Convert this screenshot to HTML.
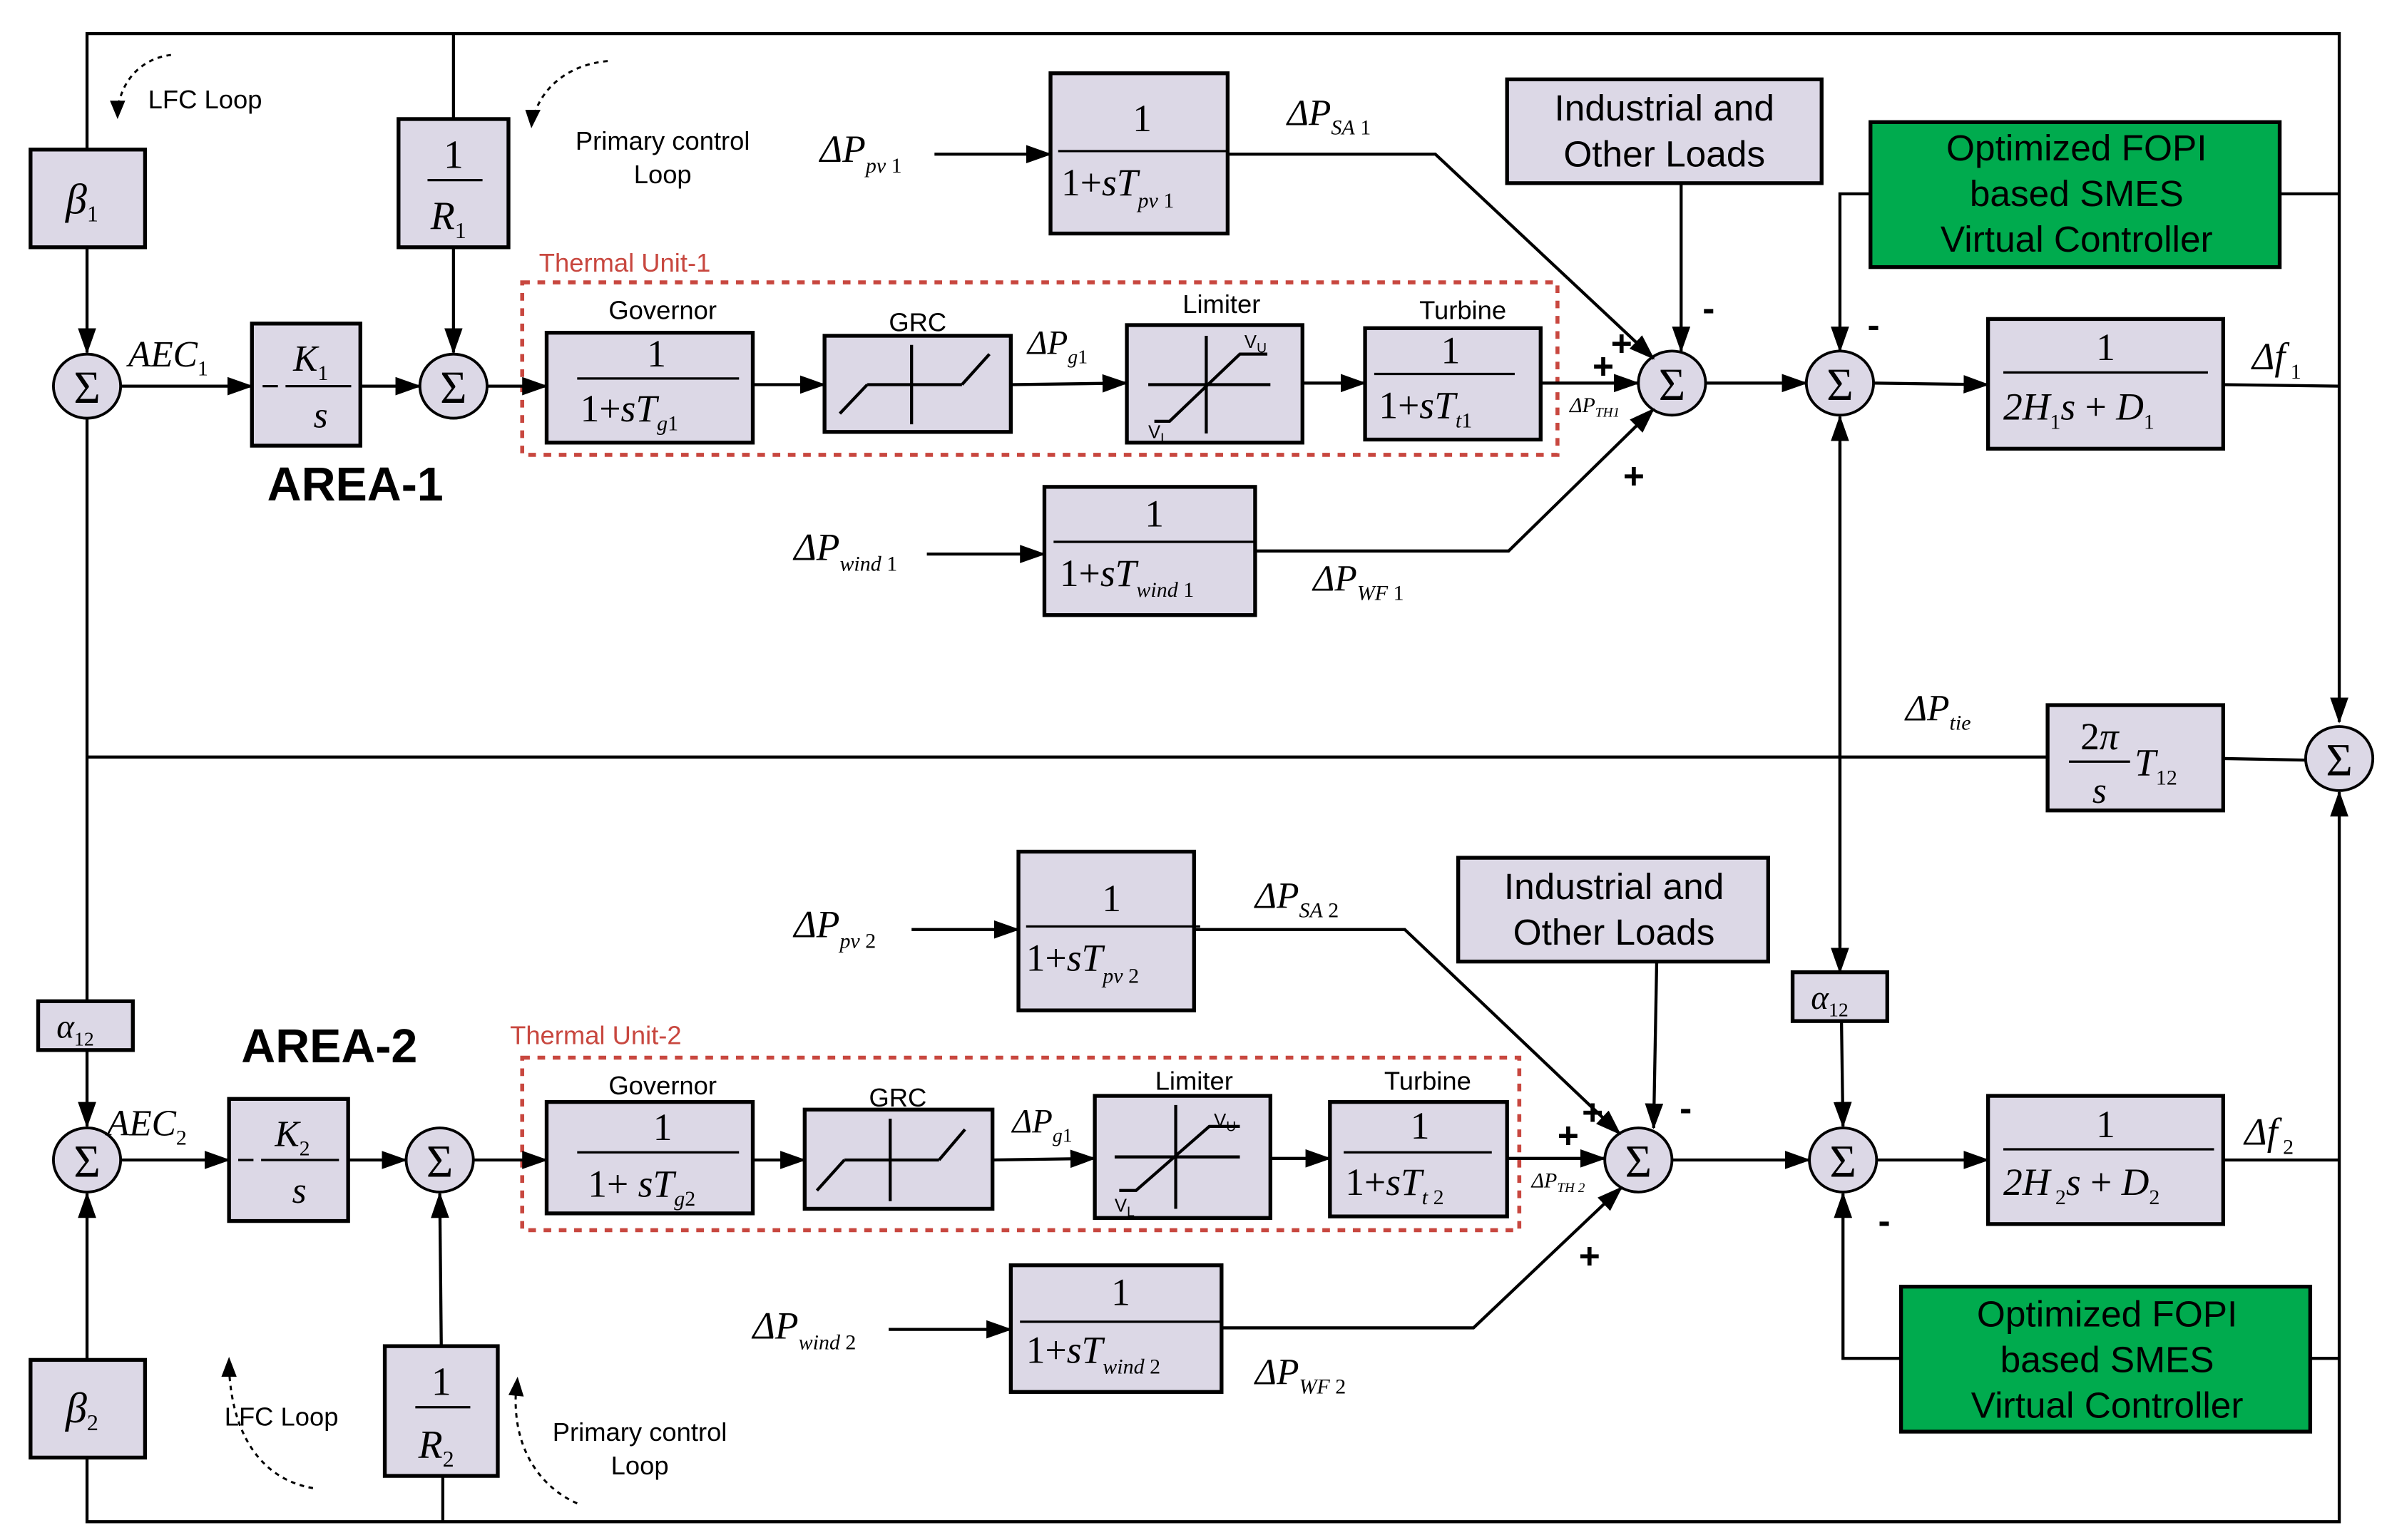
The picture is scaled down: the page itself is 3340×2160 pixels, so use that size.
<!DOCTYPE html>
<html><head><meta charset="utf-8"><style>
html,body{margin:0;padding:0;background:#fff}
svg{display:block}
.b{fill:#dcd8e6;stroke:#000;stroke-width:2.5}
.g{fill:#00ab4e;stroke:#000;stroke-width:2.5}
.l{fill:none;stroke:#000;stroke-width:2}
.s{fill:#dcd8e6;stroke:#000;stroke-width:1.8}
.d{fill:none;stroke:#c8473f;stroke-width:2.6;stroke-dasharray:5,5}
.c{fill:none;stroke:#000;stroke-width:1.4;stroke-dasharray:3,3}
.m{font-family:"Liberation Serif",serif;font-style:italic}
.n{font-family:"Liberation Serif",serif}
.t{font-family:"Liberation Sans",sans-serif}
</style></head><body>
<svg width="3340" height="2160" viewBox="0 0 1560 1009" preserveAspectRatio="none" xmlns="http://www.w3.org/2000/svg">
<defs>
<marker id="a" markerUnits="userSpaceOnUse" markerWidth="18" markerHeight="14" refX="16" refY="6" orient="auto"><path d="M0,0 L17,6 L0,12 z" fill="#000"/></marker>
</defs>
<!-- outer loops -->
<polyline class="l" points="57,98 57,22 1532,22 1532,473" marker-end="url(#a)"/>
<line class="l" x1="297" y1="22" x2="297" y2="78"/>
<polyline class="l" points="57,955 57,997 1532,997 1532,519" marker-end="url(#a)"/>
<line class="l" x1="290" y1="967" x2="290" y2="997"/>

<!-- AREA 1 -->
<rect class="b" x="20" y="98" width="75" height="64"/>
<text class="m" x="43" y="140" font-size="28">β<tspan font-size="15" font-style="normal" dy="5">1</tspan></text>
<line class="l" x1="57" y1="162" x2="57" y2="231" marker-end="url(#a)"/>
<rect class="b" x="261" y="78" width="72" height="84"/>
<text class="n" x="297" y="110" font-size="26" text-anchor="middle">1</text>
<line x1="280" y1="118" x2="316" y2="118" stroke="#000" stroke-width="1.5"/>
<text class="m" x="282" y="150" font-size="26">R<tspan font-size="15" font-style="normal" dy="6">1</tspan></text>
<line class="l" x1="297" y1="162" x2="297" y2="231" marker-end="url(#a)"/>

<ellipse class="s" cx="57" cy="253" rx="22" ry="21"/><text class="n" x="57" y="264" font-size="30" text-anchor="middle">Σ</text>
<ellipse class="s" cx="297" cy="253" rx="22" ry="21"/><text class="n" x="297" y="264" font-size="30" text-anchor="middle">Σ</text>
<text class="m" x="84" y="240" font-size="24">AEC<tspan font-size="14" font-style="normal" dy="6">1</tspan></text>
<line class="l" x1="79" y1="253" x2="165" y2="253" marker-end="url(#a)"/>
<rect class="b" x="165" y="212" width="71" height="80"/>
<text class="m" x="192" y="243" font-size="24">K<tspan font-size="14" font-style="normal" dy="6">1</tspan></text>
<line x1="172" y1="253" x2="182" y2="253" stroke="#000" stroke-width="1.5"/><line x1="187" y1="253" x2="230" y2="253" stroke="#000" stroke-width="1.5"/>
<text class="m" x="210" y="280" font-size="24" text-anchor="middle">s</text>
<line class="l" x1="236" y1="253" x2="275" y2="253" marker-end="url(#a)"/>
<text class="t" x="175" y="328" font-size="31" font-weight="bold">AREA-1</text>

<text class="t" x="97" y="71" font-size="17">LFC Loop</text>
<path class="c" d="M112,36 C95,38 80,50 77,72"/><path d="M72,66 L77,78 L82,66 z"/>
<text class="t" x="434" y="98" font-size="17" text-anchor="middle">Primary control</text>
<text class="t" x="434" y="120" font-size="17" text-anchor="middle">Loop</text>
<path class="c" d="M398,40 C375,42 355,55 349,78"/><path d="M344,72 L348,84 L354,72 z"/>

<rect class="d" x="342" y="185" width="678" height="113"/>
<text class="t" x="353" y="178" font-size="17" fill="#c8473f">Thermal Unit-1</text>
<line class="l" x1="319" y1="253" x2="358" y2="253" marker-end="url(#a)"/>
<text class="t" x="434" y="209" font-size="17" text-anchor="middle">Governor</text>
<rect class="b" x="358" y="218" width="135" height="72"/>
<text class="n" x="430" y="240" font-size="25" text-anchor="middle">1</text>
<line x1="378" y1="248" x2="484" y2="248" stroke="#000" stroke-width="1.5"/>
<text class="n" x="380" y="276" font-size="25">1+<tspan class="m">sT</tspan><tspan class="m" font-size="14" dy="6">g</tspan><tspan font-size="14">1</tspan></text>
<line class="l" x1="493" y1="252" x2="540" y2="252" marker-end="url(#a)"/>
<text class="t" x="601" y="217" font-size="17" text-anchor="middle">GRC</text>
<rect class="b" x="540" y="220" width="122" height="63"/>
<line class="l" x1="597" y1="226" x2="597" y2="278"/><line class="l" x1="568" y1="252" x2="630" y2="252"/>
<line class="l" x1="550" y1="271" x2="568" y2="252"/><line class="l" x1="630" y1="252" x2="648" y2="232"/>
<line class="l" x1="662" y1="252" x2="738" y2="251" marker-end="url(#a)"/>
<text class="m" x="673" y="232" font-size="22">ΔP<tspan font-size="13" dy="6">g</tspan><tspan font-size="13" font-style="normal">1</tspan></text>
<text class="t" x="800" y="205" font-size="17" text-anchor="middle">Limiter</text>
<rect class="b" x="738" y="213" width="115" height="77"/>
<line class="l" x1="790" y1="220" x2="790" y2="284"/><line class="l" x1="752" y1="252" x2="832" y2="252"/>
<polyline class="l" points="756,276 766,276 812,232 830,232"/>
<text class="t" x="815" y="228" font-size="12">V<tspan font-size="9" dy="3">U</tspan></text>
<text class="t" x="752" y="287" font-size="12">V<tspan font-size="9" dy="3">L</tspan></text>
<line class="l" x1="853" y1="251" x2="894" y2="251" marker-end="url(#a)"/>
<text class="t" x="958" y="209" font-size="17" text-anchor="middle">Turbine</text>
<rect class="b" x="894" y="215" width="115" height="73"/>
<text class="n" x="950" y="238" font-size="25" text-anchor="middle">1</text>
<line x1="900" y1="245" x2="992" y2="245" stroke="#000" stroke-width="1.5"/>
<text class="n" x="903" y="274" font-size="25">1+<tspan class="m">sT</tspan><tspan class="m" font-size="14" dy="6">t</tspan><tspan font-size="14">1</tspan></text>
<line class="l" x1="1009" y1="251" x2="1073" y2="251" marker-end="url(#a)"/>
<text class="m" x="1028" y="270" font-size="14">ΔP<tspan font-size="9" dy="3">TH1</tspan></text>

<ellipse class="s" cx="1095" cy="251" rx="22" ry="21"/><text class="n" x="1095" y="262" font-size="30" text-anchor="middle">Σ</text>
<text class="t" x="1062" y="233" font-size="24" font-weight="bold" text-anchor="middle">+</text>
<text class="t" x="1050" y="248" font-size="24" font-weight="bold" text-anchor="middle">+</text>
<text class="t" x="1119" y="210" font-size="24" font-weight="bold" text-anchor="middle">-</text>
<text class="t" x="1070" y="320" font-size="24" font-weight="bold" text-anchor="middle">+</text>

<rect class="b" x="688" y="48" width="116" height="105"/>
<text class="n" x="748" y="86" font-size="25" text-anchor="middle">1</text>
<line x1="693" y1="99" x2="804" y2="99" stroke="#000" stroke-width="1.5"/>
<text class="n" x="695" y="128" font-size="25">1+<tspan class="m">sT</tspan><tspan class="m" font-size="14" dy="8">pv</tspan><tspan font-size="14"> 1</tspan></text>
<text class="m" x="537" y="106" font-size="25">ΔP<tspan font-size="14" dy="7">pv</tspan><tspan font-size="14" font-style="normal"> 1</tspan></text>
<line class="l" x1="612" y1="101" x2="688" y2="101" marker-end="url(#a)"/>
<text class="m" x="843" y="82" font-size="24">ΔP<tspan font-size="14" dy="6">SA</tspan><tspan font-size="14" font-style="normal"> 1</tspan></text>
<polyline class="l" points="804,101 940,101 1083,235" marker-end="url(#a)"/>

<rect class="b" x="987" y="52" width="206" height="68"/>
<text class="t" x="1090" y="79" font-size="24" text-anchor="middle">Industrial and</text>
<text class="t" x="1090" y="109" font-size="24" text-anchor="middle">Other Loads</text>
<line class="l" x1="1101" y1="120" x2="1101" y2="230" marker-end="url(#a)"/>

<rect class="g" x="1225" y="80" width="268" height="95"/>
<text class="t" x="1360" y="105" font-size="24" text-anchor="middle">Optimized FOPI</text>
<text class="t" x="1360" y="135" font-size="24" text-anchor="middle">based SMES</text>
<text class="t" x="1360" y="165" font-size="24" text-anchor="middle">Virtual Controller</text>
<polyline class="l" points="1225,127 1205,127 1205,230" marker-end="url(#a)"/>
<line class="l" x1="1493" y1="127" x2="1532" y2="127"/>

<line class="l" x1="1117" y1="251" x2="1183" y2="251" marker-end="url(#a)"/>
<ellipse class="s" cx="1205" cy="251" rx="22" ry="21"/><text class="n" x="1205" y="262" font-size="30" text-anchor="middle">Σ</text>
<text class="t" x="1227" y="221" font-size="24" font-weight="bold" text-anchor="middle">-</text>
<line class="l" x1="1227" y1="251" x2="1302" y2="252" marker-end="url(#a)"/>
<rect class="b" x="1302" y="209" width="154" height="85"/>
<text class="n" x="1379" y="236" font-size="25" text-anchor="middle">1</text>
<line x1="1312" y1="244" x2="1446" y2="244" stroke="#000" stroke-width="1.5"/>
<text class="m" x="1312" y="275" font-size="25">2H<tspan font-size="14" font-style="normal" dy="6">1</tspan><tspan dy="-6">s</tspan><tspan font-style="normal"> + </tspan>D<tspan font-size="14" font-style="normal" dy="6">1</tspan></text>
<line class="l" x1="1456" y1="252" x2="1532" y2="253"/>
<text class="m" x="1475" y="242" font-size="25">Δf<tspan font-size="14" font-style="normal" dy="6"> 1</tspan></text>

<rect class="b" x="684" y="319" width="138" height="84"/>
<text class="n" x="756" y="345" font-size="25" text-anchor="middle">1</text>
<line x1="690" y1="355" x2="822" y2="355" stroke="#000" stroke-width="1.5"/>
<text class="n" x="694" y="384" font-size="25">1+<tspan class="m">sT</tspan><tspan class="m" font-size="14" dy="7">wind</tspan><tspan font-size="14"> 1</tspan></text>
<text class="m" x="520" y="367" font-size="25">ΔP<tspan font-size="14" dy="7">wind</tspan><tspan font-size="14" font-style="normal"> 1</tspan></text>
<line class="l" x1="607" y1="363" x2="684" y2="363" marker-end="url(#a)"/>
<polyline class="l" points="822,361 988,361 1083,268" marker-end="url(#a)"/>
<text class="m" x="860" y="387" font-size="24">ΔP<tspan font-size="14" dy="6">WF</tspan><tspan font-size="14" font-style="normal"> 1</tspan></text>

<!-- middle -->
<line class="l" x1="57" y1="274" x2="57" y2="656"/>
<line class="l" x1="57" y1="496" x2="1341" y2="496"/>
<rect class="b" x="1341" y="462" width="115" height="69"/>
<text class="n" x="1375" y="491" font-size="25" text-anchor="middle">2<tspan class="m">π</tspan></text>
<line x1="1355" y1="499" x2="1395" y2="499" stroke="#000" stroke-width="1.5"/>
<text class="m" x="1375" y="526" font-size="24" text-anchor="middle">s</text>
<text class="m" x="1398" y="508" font-size="25">T<tspan font-size="14" font-style="normal" dy="6">12</tspan></text>
<line class="l" x1="1456" y1="497" x2="1510" y2="498"/>
<text class="m" x="1248" y="472" font-size="24">ΔP<tspan font-size="14" dy="6">tie</tspan></text>
<ellipse class="s" cx="1532" cy="497" rx="22" ry="21"/><text class="n" x="1532" y="508" font-size="30" text-anchor="middle">Σ</text>
<line class="l" x1="1205" y1="290" x2="1205" y2="637" marker-end="url(#a)"/>
<line class="l" x1="1205" y1="620" x2="1205" y2="273" marker-end="url(#a)"/>
<rect class="b" x="1174" y="637" width="62" height="32"/>
<text class="m" x="1186" y="661" font-size="22">α<tspan font-size="13" font-style="normal" dy="5">12</tspan></text>
<line class="l" x1="1206" y1="669" x2="1207" y2="738" marker-end="url(#a)"/>
<rect class="b" x="25" y="656" width="62" height="32"/>
<text class="m" x="37" y="680" font-size="22">α<tspan font-size="13" font-style="normal" dy="5">12</tspan></text>
<line class="l" x1="57" y1="688" x2="57" y2="738" marker-end="url(#a)"/>

<!-- AREA 2 -->
<ellipse class="s" cx="57" cy="760" rx="22" ry="21"/><text class="n" x="57" y="771" font-size="30" text-anchor="middle">Σ</text>
<ellipse class="s" cx="288" cy="760" rx="22" ry="21"/><text class="n" x="288" y="771" font-size="30" text-anchor="middle">Σ</text>
<text class="m" x="70" y="744" font-size="24">AEC<tspan font-size="14" font-style="normal" dy="6">2</tspan></text>
<line class="l" x1="79" y1="760" x2="150" y2="760" marker-end="url(#a)"/>
<rect class="b" x="150" y="720" width="78" height="80"/>
<text class="m" x="180" y="751" font-size="24">K<tspan font-size="14" font-style="normal" dy="6">2</tspan></text>
<line x1="156" y1="760" x2="166" y2="760" stroke="#000" stroke-width="1.5"/><line x1="171" y1="760" x2="222" y2="760" stroke="#000" stroke-width="1.5"/>
<text class="m" x="196" y="788" font-size="24" text-anchor="middle">s</text>
<line class="l" x1="228" y1="760" x2="266" y2="760" marker-end="url(#a)"/>
<text class="t" x="158" y="696" font-size="31" font-weight="bold">AREA-2</text>

<rect class="b" x="20" y="891" width="75" height="64"/>
<text class="m" x="43" y="932" font-size="28">β<tspan font-size="15" font-style="normal" dy="5">2</tspan></text>
<line class="l" x1="57" y1="891" x2="57" y2="782" marker-end="url(#a)"/>
<rect class="b" x="252" y="882" width="74" height="85"/>
<text class="n" x="289" y="914" font-size="26" text-anchor="middle">1</text>
<line x1="272" y1="922" x2="308" y2="922" stroke="#000" stroke-width="1.5"/>
<text class="m" x="274" y="955" font-size="26">R<tspan font-size="15" font-style="normal" dy="6">2</tspan></text>
<line class="l" x1="289" y1="882" x2="288" y2="782" marker-end="url(#a)"/>
<text class="t" x="147" y="934" font-size="17">LFC Loop</text>
<path class="c" d="M205,975 C175,970 152,945 150,896"/><path d="M145,902 L150,889 L155,902 z"/>
<text class="t" x="419" y="944" font-size="17" text-anchor="middle">Primary control</text>
<text class="t" x="419" y="966" font-size="17" text-anchor="middle">Loop</text>
<path class="c" d="M378,985 C355,975 335,950 338,910"/><path d="M333,914 L339,902 L343,915 z"/>

<rect class="d" x="342" y="693" width="653" height="113"/>
<text class="t" x="334" y="684" font-size="17" fill="#c8473f">Thermal Unit-2</text>
<line class="l" x1="310" y1="760" x2="358" y2="760" marker-end="url(#a)"/>
<text class="t" x="434" y="717" font-size="17" text-anchor="middle">Governor</text>
<rect class="b" x="358" y="722" width="135" height="73"/>
<text class="n" x="434" y="747" font-size="25" text-anchor="middle">1</text>
<line x1="378" y1="755" x2="484" y2="755" stroke="#000" stroke-width="1.5"/>
<text class="n" x="385" y="784" font-size="25">1+ <tspan class="m">sT</tspan><tspan class="m" font-size="14" dy="6">g</tspan><tspan font-size="14">2</tspan></text>
<line class="l" x1="493" y1="760" x2="527" y2="760" marker-end="url(#a)"/>
<text class="t" x="588" y="725" font-size="17" text-anchor="middle">GRC</text>
<rect class="b" x="527" y="727" width="123" height="65"/>
<line class="l" x1="583" y1="733" x2="583" y2="787"/><line class="l" x1="553" y1="760" x2="615" y2="760"/>
<line class="l" x1="535" y1="780" x2="553" y2="760"/><line class="l" x1="615" y1="760" x2="632" y2="740"/>
<line class="l" x1="650" y1="760" x2="717" y2="759" marker-end="url(#a)"/>
<text class="m" x="663" y="742" font-size="22">ΔP<tspan font-size="13" dy="6">g</tspan><tspan font-size="13" font-style="normal">1</tspan></text>
<text class="t" x="782" y="714" font-size="17" text-anchor="middle">Limiter</text>
<rect class="b" x="717" y="718" width="115" height="80"/>
<line class="l" x1="770" y1="724" x2="770" y2="792"/><line class="l" x1="730" y1="758" x2="812" y2="758"/>
<polyline class="l" points="733,780 744,780 792,738 812,738"/>
<text class="t" x="795" y="738" font-size="12">V<tspan font-size="9" dy="3">U</tspan></text>
<text class="t" x="730" y="794" font-size="12">V<tspan font-size="9" dy="3">L</tspan></text>
<line class="l" x1="832" y1="759" x2="871" y2="759" marker-end="url(#a)"/>
<text class="t" x="935" y="714" font-size="17" text-anchor="middle">Turbine</text>
<rect class="b" x="871" y="722" width="116" height="75"/>
<text class="n" x="930" y="746" font-size="25" text-anchor="middle">1</text>
<line x1="880" y1="755" x2="977" y2="755" stroke="#000" stroke-width="1.5"/>
<text class="n" x="881" y="783" font-size="25">1+<tspan class="m">sT</tspan><tspan class="m" font-size="14" dy="6">t</tspan><tspan font-size="14"> 2</tspan></text>
<line class="l" x1="987" y1="759" x2="1051" y2="759" marker-end="url(#a)"/>
<text class="m" x="1003" y="778" font-size="14">ΔP<tspan font-size="9" dy="3">TH 2</tspan></text>

<ellipse class="s" cx="1073" cy="760" rx="22" ry="21"/><text class="n" x="1073" y="771" font-size="30" text-anchor="middle">Σ</text>
<text class="t" x="1043" y="737" font-size="24" font-weight="bold" text-anchor="middle">+</text>
<text class="t" x="1027" y="752" font-size="24" font-weight="bold" text-anchor="middle">+</text>
<text class="t" x="1104" y="734" font-size="24" font-weight="bold" text-anchor="middle">-</text>
<text class="t" x="1041" y="831" font-size="24" font-weight="bold" text-anchor="middle">+</text>

<rect class="b" x="667" y="558" width="115" height="104"/>
<text class="n" x="728" y="597" font-size="25" text-anchor="middle">1</text>
<line x1="672" y1="607" x2="786" y2="607" stroke="#000" stroke-width="1.5"/>
<text class="n" x="672" y="636" font-size="25">1+<tspan class="m">sT</tspan><tspan class="m" font-size="14" dy="8">pv</tspan><tspan font-size="14"> 2</tspan></text>
<text class="m" x="520" y="614" font-size="25">ΔP<tspan font-size="14" dy="7">pv</tspan><tspan font-size="14" font-style="normal"> 2</tspan></text>
<line class="l" x1="597" y1="609" x2="667" y2="609" marker-end="url(#a)"/>
<text class="m" x="822" y="595" font-size="24">ΔP<tspan font-size="14" dy="6">SA</tspan><tspan font-size="14" font-style="normal"> 2</tspan></text>
<polyline class="l" points="782,609 920,609 1061,743" marker-end="url(#a)"/>

<rect class="b" x="955" y="562" width="203" height="68"/>
<text class="t" x="1057" y="589" font-size="24" text-anchor="middle">Industrial and</text>
<text class="t" x="1057" y="619" font-size="24" text-anchor="middle">Other Loads</text>
<line class="l" x1="1085" y1="630" x2="1083" y2="739" marker-end="url(#a)"/>

<rect class="g" x="1245" y="843" width="268" height="95"/>
<text class="t" x="1380" y="869" font-size="24" text-anchor="middle">Optimized FOPI</text>
<text class="t" x="1380" y="899" font-size="24" text-anchor="middle">based SMES</text>
<text class="t" x="1380" y="929" font-size="24" text-anchor="middle">Virtual Controller</text>
<polyline class="l" points="1245,890 1207,890 1207,782" marker-end="url(#a)"/>
<line class="l" x1="1513" y1="890" x2="1532" y2="890"/>

<line class="l" x1="1095" y1="760" x2="1185" y2="760" marker-end="url(#a)"/>
<ellipse class="s" cx="1207" cy="760" rx="22" ry="21"/><text class="n" x="1207" y="771" font-size="30" text-anchor="middle">Σ</text>
<text class="t" x="1234" y="808" font-size="24" font-weight="bold" text-anchor="middle">-</text>
<line class="l" x1="1229" y1="760" x2="1302" y2="760" marker-end="url(#a)"/>
<rect class="b" x="1302" y="718" width="154" height="84"/>
<text class="n" x="1379" y="745" font-size="25" text-anchor="middle">1</text>
<line x1="1312" y1="753" x2="1450" y2="753" stroke="#000" stroke-width="1.5"/>
<text class="m" x="1312" y="783" font-size="25">2H<tspan font-size="14" font-style="normal" dy="6"> 2</tspan><tspan dy="-6">s</tspan><tspan font-style="normal"> + </tspan>D<tspan font-size="14" font-style="normal" dy="6">2</tspan></text>
<line class="l" x1="1456" y1="760" x2="1532" y2="760"/>
<text class="m" x="1470" y="750" font-size="25">Δf<tspan font-size="14" font-style="normal" dy="6"> 2</tspan></text>

<rect class="b" x="662" y="829" width="138" height="83"/>
<text class="n" x="734" y="855" font-size="25" text-anchor="middle">1</text>
<line x1="668" y1="866" x2="800" y2="866" stroke="#000" stroke-width="1.5"/>
<text class="n" x="672" y="893" font-size="25">1+<tspan class="m">sT</tspan><tspan class="m" font-size="14" dy="7">wind</tspan><tspan font-size="14"> 2</tspan></text>
<text class="m" x="493" y="877" font-size="25">ΔP<tspan font-size="14" dy="7">wind</tspan><tspan font-size="14" font-style="normal"> 2</tspan></text>
<line class="l" x1="582" y1="871" x2="662" y2="871" marker-end="url(#a)"/>
<polyline class="l" points="800,870 965,870 1062,778" marker-end="url(#a)"/>
<text class="m" x="822" y="907" font-size="24">ΔP<tspan font-size="14" dy="6">WF</tspan><tspan font-size="14" font-style="normal"> 2</tspan></text>
</svg>
</body></html>
